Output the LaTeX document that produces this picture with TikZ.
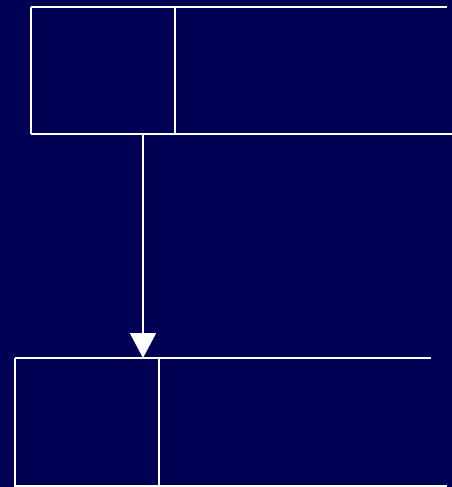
\documentclass[tikz,border=0pt]{standalone}
\usetikzlibrary{arrows.meta}
\definecolor{navybg}{RGB}{0,0,85}
\tikzset{
  rule/.style={draw=white, line width=2pt},
  flow/.style={white, line width=2pt, -{Triangle[width=26pt,length=25pt]}},
}
\begin{document}
\begin{tikzpicture}[x=1pt,y=-1pt]
  \fill[navybg] (0,0) rectangle (452,487);
  \useasboundingbox (0,0) rectangle (452,487);
  % upper record
  \draw[rule] (31,7) -- (447,7);
  \draw[rule] (31,134) -- (452,134);
  \draw[rule] (31,7) -- (31,134);
  \draw[rule] (175,7) -- (175,134);
  % lower record
  \draw[rule] (15,358) -- (431,358);
  \draw[rule] (15,486) -- (447,486);
  \draw[rule] (15,358) -- (15,487);
  \draw[rule] (159,358) -- (159,487);
  % link
  \coordinate (upper) at (143,134);
  \coordinate (lower) at (143,358);
  \draw[flow] (upper) -- (lower);
\end{tikzpicture}
\end{document}
